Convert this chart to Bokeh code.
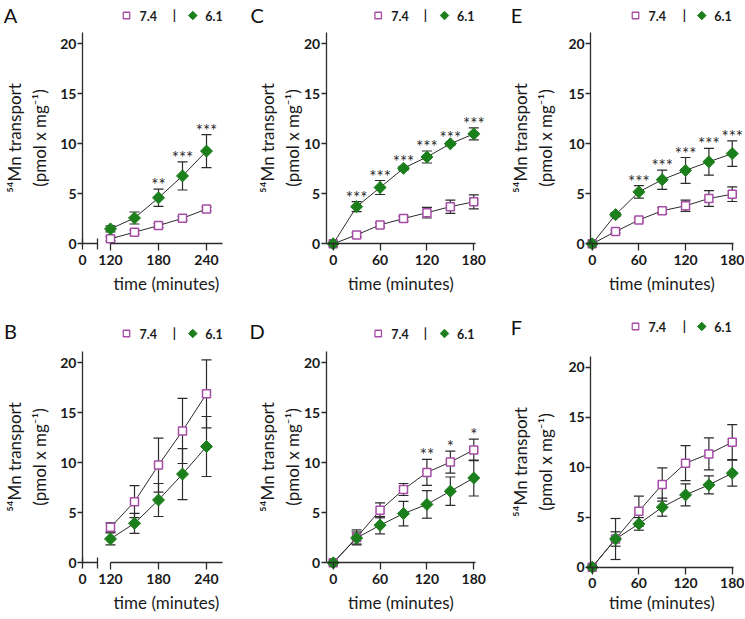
import math
from bokeh.plotting import figure
from bokeh.models import (Range1d, FixedTicker, LinearAxis, Whisker, TeeHead,
                          ColumnDataSource, Label)
from bokeh.layouts import row, column
from bokeh.embed import file_html
from bokeh.resources import INLINE
from bokeh.core.properties import value

PURPLE = "#A64CA6"
GREEN = "#1B7F1B"
DARK = "#2b2b2b"
FONT = "Lato"

# ---------------- data ----------------
A_time = [120, 150, 180, 210, 240]
A_74 = [0.5, 1.16, 1.82, 2.55, 3.48]
A_74_err = [0.2, 0.2, 0.2, 0.2, 0.2]
A_61 = [1.49, 2.58, 4.6, 6.79, 9.27]
A_61_err = [0.3, 0.6, 0.86, 1.41, 1.65]
A_sig = ["", "", "**", "***", "***"]

B_time = [120, 150, 180, 210, 240]
B_74 = [3.55, 6.11, 9.77, 13.19, 16.9]
B_74_err = [0.45, 1.6, 2.7, 3.26, 3.4]
B_61 = [2.39, 3.95, 6.28, 8.87, 11.63]
B_61_err = [0.6, 1.0, 1.65, 2.55, 3.0]
B_sig = ["", "", "", "", ""]

C_time = [0, 30, 60, 90, 120, 150, 180]
C_74 = [0, 0.89, 1.89, 2.52, 3.11, 3.71, 4.2]
C_74_err = [0, 0.2, 0.2, 0.25, 0.53, 0.66, 0.7]
C_61 = [0, 3.71, 5.63, 7.55, 8.68, 10.0, 10.99]
C_61_err = [0, 0.5, 0.7, 0.2, 0.6, 0.15, 0.6]
C_sig = ["", "***", "***", "***", "***", "***", "***"]

D_time = [0, 30, 60, 90, 120, 150, 180]
D_74 = [0, 2.54, 5.25, 7.33, 9.04, 10.07, 11.29]
D_74_err = [0, 0.75, 0.75, 0.6, 1.3, 1.1, 1.07]
D_61 = [0, 2.48, 3.76, 4.92, 5.84, 7.16, 8.48]
D_61_err = [0, 0.6, 0.87, 1.23, 1.38, 1.42, 1.8]
D_sig = ["", "", "", "", "**", "*", "*"]

E_time = [0, 30, 60, 90, 120, 150, 180]
E_74 = [0, 1.22, 2.38, 3.31, 3.8, 4.53, 4.96]
E_74_err = [0, 0.15, 0.2, 0.3, 0.56, 0.78, 0.73]
E_61 = [0, 2.91, 5.19, 6.41, 7.34, 8.2, 9.02]
E_61_err = [0, 0.2, 0.63, 0.96, 1.29, 1.34, 1.27]
E_sig = ["", "", "***", "***", "***", "***", "***"]

F_time = [0, 30, 60, 90, 120, 150, 180]
F_74 = [0, 2.82, 5.6, 8.27, 10.4, 11.33, 12.5]
F_74_err = [0, 0.72, 1.5, 1.66, 1.75, 1.6, 1.75]
F_61 = [0, 2.82, 4.33, 6.0, 7.23, 8.23, 9.4]
F_61_err = [0, 2.05, 0.63, 0.9, 1.1, 0.9, 1.3]
F_sig = ["", "", "", "", "", "", ""]

Y_TICKS = [0, 5, 10, 15, 20]
SERIES_LABELS = ["7.4", "6.1"]
X_LABEL = "time (minutes)"
Y_LABEL = "\u2075\u2074Mn transport\n(pmol x mg\u207b\u00b9)"

# ---------------- layout configs (page pixel geometry, page origin at 0,0) ----------------
COL_A = dict(fig_left=0, width=244, xa_page=82, xa_data=85, ppm=0.8, yaxis_x=85,
             xbounds=(120, 260), xticks=[120, 180, 240], broken=True,
             leg_x=126, sep_x=174, letter_x=10, yls=7)
COL_C = dict(fig_left=244, width=249, xa_page=332.7, xa_data=0, ppm=0.781, yaxis_x=-9,
             xbounds=(-9, 182), xticks=[0, 60, 120, 180], broken=False,
             leg_x=377.7, sep_x=425, letter_x=256.7, yls=-2)
COL_E = dict(fig_left=493, width=251, xa_page=591.7, xa_data=0, ppm=0.778, yaxis_x=-2,
             xbounds=(-2, 181), xticks=[0, 60, 120, 180], broken=False,
             leg_x=635, sep_x=684, letter_x=516, yls=9)

ROW_1 = dict(fig_top=0, height=308, y0_page=243.3, leg_y=15, letter_y=14, xls=5)
ROW_2 = dict(fig_top=308, height=310, y0_page=562.3, leg_y=333, letter_y=330, xls=5)
ROW_2F = dict(fig_top=308, height=310, y0_page=566.7, leg_y=326, letter_y=326.5, xls=0)


def style_axis(ax, tick_out):
    ax.axis_line_color = DARK
    ax.axis_line_width = 1.3
    ax.major_tick_line_color = DARK
    ax.major_tick_line_width = 1.3
    ax.major_tick_in = 0
    ax.major_tick_out = tick_out
    ax.minor_tick_line_color = None
    ax.major_label_text_font = FONT
    ax.major_label_text_font_style = "bold"
    ax.major_label_text_font_size = "14px"
    ax.major_label_text_color = "#1a1a1a"
    ax.axis_label_text_font = FONT
    ax.axis_label_text_font_style = "normal"
    ax.axis_label_text_font_size = "17px"
    ax.axis_label_text_color = "#1a1a1a"


def make_panel(letter, t, s74, e74, s61, e61, sig, col, rw):
    ppm = col["ppm"]

    def dx(px):
        return col["xa_data"] + (px - col["xa_page"]) / ppm

    def dy(py):
        return (rw["y0_page"] - py) / 10.0

    x0 = dx(col["fig_left"])
    x1 = dx(col["fig_left"] + col["width"])
    y1 = dy(rw["fig_top"])
    y0 = dy(rw["fig_top"] + rw["height"])

    p = figure(width=col["width"], height=rw["height"],
               x_range=Range1d(x0, x1), y_range=Range1d(y0, y1),
               output_backend="svg", toolbar_location=None,
               min_border=0, min_border_left=0, min_border_right=0,
               min_border_top=0, min_border_bottom=0)
    p.outline_line_color = None
    p.xgrid.visible = False
    p.ygrid.visible = False

    xa = p.xaxis[0]
    style_axis(xa, 7)
    xa.fixed_location = 0
    xa.bounds = col["xbounds"]
    xa.ticker = FixedTicker(ticks=col["xticks"])
    xa.major_label_standoff = 4
    xa.axis_label = X_LABEL
    xa.axis_label_standoff = rw["xls"]

    ya = p.yaxis[0]
    style_axis(ya, 5)
    ya.fixed_location = col["yaxis_x"]
    ya.bounds = (0, 21.1)
    ya.ticker = FixedTicker(ticks=Y_TICKS)
    ya.major_label_standoff = 1
    ya.axis_label = Y_LABEL
    ya.axis_label_standoff = col["yls"]

    if col["broken"]:
        brk = dx(col["xa_page"] + 14.5)
        xa2 = LinearAxis(fixed_location=0, bounds=(col["xa_data"], brk),
                         ticker=FixedTicker(ticks=[col["xa_data"], brk]),
                         major_label_overrides={col["xa_data"]: "0", brk: ""})
        style_axis(xa2, 6)
        xa2.major_tick_in = 5
        xa2.major_label_standoff = 5
        p.add_layout(xa2, "below")

    # error bars
    for s, e in ((s74, e74), (s61, e61)):
        src = ColumnDataSource(dict(x=t, lo=[v - d for v, d in zip(s, e)],
                                    hi=[v + d for v, d in zip(s, e)]))
        w = Whisker(base="x", upper="hi", lower="lo", source=src, level="underlay",
                    line_color=DARK, line_width=1.2,
                    upper_head=TeeHead(size=10, line_color=DARK, line_width=1.2),
                    lower_head=TeeHead(size=10, line_color=DARK, line_width=1.2))
        p.add_layout(w)

    p.line(t, s74, line_color=DARK, line_width=1)
    p.line(t, s61, line_color=DARK, line_width=1)
    p.scatter(t, s74, marker="square", size=8, fill_color="white",
              line_color=PURPLE, line_width=1.5)
    p.scatter(t, s61, marker="square", angle=math.pi / 4, size=8.5,
              fill_color=GREEN, line_color=GREEN, line_width=1)

    # significance stars
    sx, sy, st = [], [], []
    for i, lab in enumerate(sig):
        if lab:
            sx.append(t[i])
            sy.append(max(s74[i] + e74[i], s61[i] + e61[i]) + 0.45)
            st.append(lab)
    if st:
        p.text(sx, sy, text=st, text_align="center", text_baseline="alphabetic",
               text_font=value(FONT), text_font_size="17px", text_color=DARK)

    # key:  [open square] 7.4  |  [diamond] 6.1
    ly = dy(rw["leg_y"])
    lx_sq = col["leg_x"]
    lx_dm = col["leg_x"] + 66.3
    p.scatter([dx(lx_sq)], [ly], marker="square", size=6.5, fill_color="white",
              line_color=PURPLE, line_width=1.3)
    p.scatter([dx(lx_dm)], [ly], marker="square", angle=math.pi / 4, size=6,
              fill_color=GREEN, line_color=GREEN, line_width=1)
    p.text([dx(lx_sq + 13), dx(col["sep_x"]), dx(lx_dm + 12.5)], [ly, ly, ly],
           text=[SERIES_LABELS[0], "|", SERIES_LABELS[1]],
           text_align=["left", "center", "left"], text_baseline="middle",
           text_font=value(FONT), text_font_style="bold", text_font_size="12.5px",
           text_color="#1a1a1a")

    p.add_layout(Label(x=dx(col["letter_x"]), y=dy(rw["letter_y"]), text=letter,
                       text_align="center", text_baseline="middle",
                       text_font=FONT, text_font_size="20px", text_color="#111111"))
    return p


pA = make_panel("A", A_time, A_74, A_74_err, A_61, A_61_err, A_sig, COL_A, ROW_1)
pC = make_panel("C", C_time, C_74, C_74_err, C_61, C_61_err, C_sig, COL_C, ROW_1)
pE = make_panel("E", E_time, E_74, E_74_err, E_61, E_61_err, E_sig, COL_E, ROW_1)
pB = make_panel("B", B_time, B_74, B_74_err, B_61, B_61_err, B_sig, COL_A, ROW_2)
pD = make_panel("D", D_time, D_74, D_74_err, D_61, D_61_err, D_sig, COL_C, ROW_2)
pF = make_panel("F", F_time, F_74, F_74_err, F_61, F_61_err, F_sig, COL_E, ROW_2F)

layout = column(row(pA, pC, pE), row(pB, pD, pF))
open("out.html", "w").write(file_html(layout, INLINE))
